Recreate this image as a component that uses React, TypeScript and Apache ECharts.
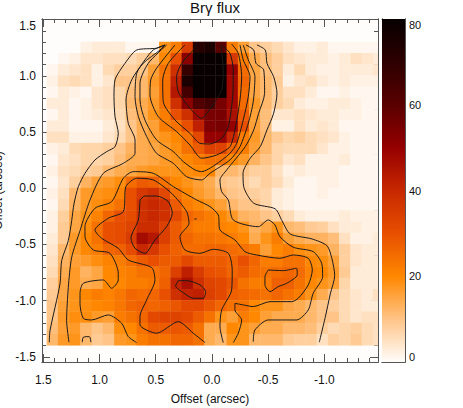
import React, { useEffect, useRef } from "react";
import * as echarts from "echarts";

const xCells = [1.42,1.32,1.22,1.12,1.02,0.92,0.82,0.72,0.62,0.52,0.42,0.32,0.22,0.12,0.02,-0.08,-0.18,-0.28,-0.38,-0.48,-0.58,-0.68,-0.78,-0.88,-0.98,-1.08,-1.18,-1.28,-1.38,-1.48];
const yCells = [1.254,1.154,1.054,0.954,0.854,0.754,0.654,0.554,0.454,0.354,0.254,0.154,0.054,-0.046,-0.146,-0.246,-0.346,-0.446,-0.546,-0.646,-0.746,-0.846,-0.946,-1.046,-1.146,-1.246,-1.346];
const flux = [
[0,0,0,2,3,3,3,1,1,1,18,22,35,72,75,60,22,16,10,8,6,4,2,2,3,1,1,1,1,1],
[0,1,2,4,4,5,5,6,8,12,20,30,52,85,85,80,36,22,14,11,8,5,4,3,3,2,3,5,4,3],
[1,3,4,5,2,6,8,8,10,16,24,38,68,90,90,88,50,25,15,11,8,3,6,3,2,2,3,3,3,4],
[2,5,6,5,2,4,10,10,12,17,24,42,75,90,90,88,48,26,15,12,9,2,4,5,3,2,3,2,2,2],
[1,3,2,1,4,5,7,11,12,16,24,44,65,88,90,85,48,25,15,12,8,5,5,3,1,1,2,1,1,1],
[3,3,1,2,4,5,7,12,14,17,24,38,52,62,65,55,48,25,17,12,8,6,3,2,2,3,3,2,1,1],
[1,3,1,2,3,4,6,11,14,18,22,30,38,48,55,55,46,28,16,11,4,4,5,4,3,3,2,2,1,1],
[3,3,1,1,1,3,5,10,14,16,22,24,30,42,54,55,50,30,16,11,2,2,5,3,4,3,1,1,1,1],
[5,5,2,2,2,4,6,10,14,16,18,20,24,32,50,50,40,22,17,12,9,7,8,6,5,4,2,1,1,1],
[2,3,6,7,7,8,10,13,14,15,17,19,24,28,34,33,26,22,16,12,7,6,6,6,4,2,2,1,1,1],
[1,4,5,7,7,8,11,14,14,15,17,18,20,22,24,24,20,17,13,10,7,4,5,2,2,2,3,1,1,1],
[2,5,6,8,9,12,14,15,17,18,18,18,19,20,20,12,12,10,8,8,5,2,3,2,2,2,1,1,1,1],
[1,4,8,13,16,17,19,25,28,27,24,20,18,16,14,10,9,8,6,8,6,3,1,1,2,2,1,1,1,1],
[2,5,12,17,18,19,21,30,36,38,32,24,20,17,15,12,10,9,8,7,3,2,1,1,2,1,1,1,1,1],
[1,6,13,17,19,21,24,30,38,40,38,28,22,20,18,16,12,10,10,7,3,2,1,1,1,1,1,1,1,1],
[2,8,15,18,21,26,30,31,38,40,38,32,26,24,22,20,17,13,12,10,8,6,3,2,2,2,3,2,2,2],
[2,9,15,19,24,30,31,33,39,39,34,28,24,22,22,21,20,18,13,15,18,12,11,9,8,5,3,3,2,2],
[3,9,17,20,24,30,31,35,47,44,34,28,26,24,24,23,22,20,14,18,22,16,14,13,13,11,5,2,2,3],
[4,12,17,20,22,26,27,31,40,36,30,27,25,25,26,26,25,24,22,16,20,22,19,18,17,13,8,4,3,3],
[5,13,16,17,19,21,22,25,28,30,28,28,32,28,28,28,26,30,26,22,22,24,24,20,19,16,8,4,3,3],
[6,14,17,13,15,20,21,22,24,24,26,34,42,35,30,29,26,28,25,24,25,26,25,21,20,17,9,3,3,3],
[8,15,17,14,15,20,20,22,22,23,27,41,46,38,33,32,29,24,22,22,27,27,24,20,18,16,7,3,3,3],
[9,15,18,20,22,21,23,26,25,26,30,38,41,42,34,32,27,26,25,24,26,24,22,18,14,10,6,4,3,5],
[10,16,18,19,20,21,23,26,27,26,27,29,32,32,29,26,24,24,20,18,18,15,14,12,10,8,6,4,3,3],
[10,17,19,19,17,16,22,24,26,32,33,33,32,28,24,18,16,22,20,16,14,14,14,12,10,10,6,4,5,5],
[11,16,17,12,10,12,19,20,24,28,28,29,28,24,14,14,20,18,16,14,14,12,12,11,8,6,7,8,6,5],
[12,17,18,12,9,10,17,18,22,24,24,26,26,24,14,12,18,18,12,12,12,9,8,8,5,8,7,9,6,5],
];

const outerLeft = [[1.446,-1.37],[1.44,-1.267],[1.351,-0.851],[1.336,-0.644],[1.277,-0.466],[1.247,-0.288],[1.227,-0.14],[1.188,0.014],[1.129,0.133],[1.04,0.252],[0.936,0.326],[0.862,0.37],[0.833,0.489],[0.862,0.637],[0.871,0.815],[0.862,0.964],[0.773,1.112],[0.669,1.23],[0.492,1.246],[0.418,1.275]];
const outerRight = [[-0.4,1.275],[-0.474,1.23],[-0.489,1.112],[-0.548,0.993],[-0.578,0.845],[-0.548,0.667],[-0.489,0.519],[-0.429,0.37],[-0.34,0.267],[-0.276,0.133],[-0.282,0.014],[-0.371,-0.133],[-0.563,-0.184],[-0.622,-0.288],[-0.696,-0.407],[-0.889,-0.451],[-1.022,-0.511],[-1.067,-0.629],[-1.091,-0.778],[-1.052,-0.94],[-1.007,-1.148],[-0.954,-1.37]];
const secondLeft = [[1.271,-1.37],[1.292,-1.178],[1.277,-0.881],[1.247,-0.614],[1.173,-0.377],[1.084,-0.104],[0.966,0.133],[0.788,0.222],[0.684,0.311],[0.684,0.43],[0.744,0.578],[0.764,0.786],[0.714,0.964],[0.611,1.112],[0.462,1.23],[0.418,1.275]];
const secondRight = [[-0.302,1.275],[-0.371,1.23],[-0.391,1.112],[-0.46,1.053],[-0.468,0.845],[-0.415,0.667],[-0.371,0.519],[-0.296,0.37],[-0.131,0.163],[-0.071,0.074],[-0.086,-0.03],[-0.145,-0.104],[-0.189,-0.282],[-0.412,-0.342],[-0.5,-0.282],[-0.56,-0.326],[-0.604,-0.431],[-0.723,-0.525],[-0.9,-0.564],[-0.975,-0.667],[-0.984,-0.786],[-0.9,-0.934],[-0.856,-1.083],[-0.753,-1.172],[-0.5,-1.172],[-0.382,-1.261],[-0.367,-1.365]];
const peakU1 = [[0.418,1.275],[0.522,1.23],[0.596,1.142],[0.669,1.023],[0.684,0.815],[0.654,0.637],[0.58,0.459],[0.492,0.311],[0.344,0.222],[0.225,0.103],[0.092,0.074],[0.018,0.133],[-0.16,0.252],[-0.249,0.37],[-0.323,0.578],[-0.367,0.77],[-0.382,0.993],[-0.323,1.142],[-0.278,1.275]];
const peakU2 = [[0.403,1.275],[0.566,1.112],[0.64,0.934],[0.64,0.786],[0.596,0.608],[0.492,0.43],[0.344,0.326],[0.255,0.237],[0.151,0.163],[0.092,0.148],[-0.027,0.207],[-0.16,0.311],[-0.22,0.4],[-0.278,0.608],[-0.323,0.815],[-0.338,0.993],[-0.278,1.142],[-0.249,1.275]];
const peakU3 = [[0.329,1.275],[0.492,1.068],[0.545,0.963],[0.551,0.83],[0.477,0.637],[0.314,0.504],[0.196,0.385],[0.092,0.267],[-0.042,0.296],[-0.16,0.37],[-0.204,0.519],[-0.249,0.785],[-0.264,0.993],[-0.234,1.2],[-0.175,1.283]];
const peakU4 = [[0.24,1.275],[0.388,1.112],[0.438,0.963],[0.433,0.77],[0.329,0.608],[0.196,0.489],[0.107,0.4],[0.018,0.394],[-0.086,0.445],[-0.145,0.548],[-0.184,0.815],[-0.189,1.052],[-0.16,1.2],[-0.086,1.275]];
const peakU5 = [[0.136,1.275],[0.166,1.23],[0.269,1.112],[0.314,0.993],[0.3,0.859],[0.196,0.712],[0.092,0.622],[0.033,0.682],[-0.027,0.77],[-0.086,0.875],[-0.1,1.023],[-0.086,1.23],[-0.071,1.275]];
const lowerOuter = [[0.67,-1.373],[0.744,-1.32],[0.803,-1.201],[0.922,-1.127],[1.07,-1.172],[1.144,-1.157],[1.173,-1.024],[1.173,-0.935],[1.144,-0.846],[0.966,-0.816],[0.892,-0.89],[0.833,-0.816],[0.833,-0.757],[0.907,-0.579],[1.055,-0.549],[1.129,-0.43],[1.129,-0.341],[1.04,-0.178],[0.892,-0.119],[0.788,0.089],[0.699,0.148],[0.522,0.133],[0.344,0.015],[0.136,-0.104],[0.018,-0.163],[-0.056,-0.238],[-0.071,-0.371],[-0.204,-0.46],[-0.293,-0.564],[-0.397,-0.594],[-0.604,-0.623],[-0.723,-0.594],[-0.856,-0.623],[-0.892,-0.727],[-0.856,-0.86],[-0.767,-0.979],[-0.708,-1.009],[-0.516,-1.009],[-0.367,-1.053],[-0.278,-1.038],[-0.204,-1.024],[-0.204,-1.083],[-0.264,-1.172],[-0.234,-1.29],[-0.19,-1.373]];
const lowerInner = [[0.062,-1.373],[0.166,-1.29],[0.299,-1.187],[0.492,-1.29],[0.64,-1.216],[0.64,-1.142],[0.581,-0.994],[0.507,-0.816],[0.536,-0.706],[0.744,-0.638],[0.833,-0.534],[0.981,-0.445],[1.04,-0.371],[0.922,-0.267],[0.788,-0.208],[0.765,0.015],[0.67,0.089],[0.522,0.074],[0.359,-0.045],[0.225,-0.208],[0.204,-0.312],[0.285,-0.43],[0.24,-0.549],[0.107,-0.579],[-0.012,-0.543],[-0.145,-0.579],[-0.18,-0.727],[-0.175,-0.905],[-0.086,-1.083],[-0.071,-1.231],[-0.1,-1.373]];
const blobD = [[0.64,-0.104],[0.596,-0.069],[0.492,-0.069],[0.388,-0.119],[0.353,-0.223],[0.403,-0.341],[0.507,-0.46],[0.596,-0.579],[0.684,-0.534],[0.72,-0.445],[0.655,-0.282],[0.64,-0.104]];
const blobE = [[0.299,-0.822],[0.225,-0.822],[0.107,-0.86],[0.056,-0.92],[0.077,-0.979],[0.166,-0.979],[0.255,-0.929],[0.323,-0.869],[0.299,-0.822]];
const blobF = [[-0.501,-0.727],[-0.634,-0.733],[-0.752,-0.712],[-0.758,-0.771],[-0.664,-0.846],[-0.589,-0.875],[-0.516,-0.92],[-0.471,-0.86],[-0.471,-0.786],[-0.501,-0.727]];
const cornerArc = [[1.153,-1.37],[1.144,-1.326],[1.09,-1.32],[1.076,-1.37]];
const speck = [[0.157,-0.273],[0.136,-0.273]];
const contours = [outerLeft, outerRight, secondLeft, secondRight, peakU1, peakU2, peakU3, peakU4, peakU5, lowerOuter, lowerInner, blobD, blobE, blobF, cornerArc, speck];

const xMajor = [-1, -0.5, 0, 0.5, 1, 1.5];
const yMajor = [-1.5, -1, -0.5, 0, 0.5, 1, 1.5];
const xMinor = [-1.4,-1.3,-1.2,-1.1,-0.9,-0.8,-0.7,-0.6,-0.4,-0.3,-0.2,-0.1,0.1,0.2,0.3,0.4,0.6,0.7,0.8,0.9,1.1,1.2,1.3,1.4];
const yMinor = xMinor;
const barMajor = [0, 20, 40, 60, 80];
const barMinor = [10, 30, 50, 70];
const colourStops = ["#fffdfb", "#ffc487", "#ff8800", "#e85000", "#c82800", "#960000", "#5a0000", "#2e0000", "#080000"];

const xRange = [-1.476, 1.511];
const yRange = [-1.546, 1.506];
const barRange = [0, 80.2];
const FONT = "'Liberation Sans', Arial, sans-serif";
const FRAME = "#555";

const frameAxis = (extra: any) => ({
  type: "value",
  splitLine: { show: false },
  axisLine: { show: true, onZero: false, lineStyle: { color: FRAME, width: 1 } },
  axisLabel: { show: false },
  axisTick: { show: false },
  ...extra,
});
const ticks = (values: number[], length: number) => ({
  show: true, inside: true, length, customValues: values, lineStyle: { color: FRAME, width: 1 },
});

export default function App() {
  const ref = useRef<HTMLDivElement>(null);
  useEffect(() => {
    const chart = echarts.init(ref.current!, undefined, { renderer: "svg" });
    const heat: number[][] = [];
    flux.forEach((row, j) => row.forEach((v, i) => heat.push([xCells[i], yCells[j], v])));
    const plotX = { min: xRange[0], max: xRange[1], inverse: true };
    const plotY = { min: yRange[0], max: yRange[1] };
    const barX = { min: 0, max: 1 };
    const barY = { min: barRange[0], max: barRange[1] };
    const plotGrid = { left: 42, top: 19, width: 336, height: 343, outerBoundsMode: "none" };
    const barGrid = { left: 382, top: 19, width: 23, height: 343, outerBoundsMode: "none" };
    chart.setOption({
      animation: false,
      backgroundColor: "#fff",
      title: {
        text: "Brγ flux", left: 210, top: -5, textAlign: "center",
        textStyle: { fontFamily: FONT, fontSize: 15, fontWeight: "normal", color: "#111" },
      },
      grid: [
        { ...plotGrid, show: true, backgroundColor: "#fffdfb", borderWidth: 0 },
        { ...plotGrid },
        { ...barGrid },
        { ...barGrid },
      ],
      visualMap: {
        type: "continuous", show: false, min: 0, max: 80, dimension: 2, seriesIndex: 0,
        inRange: { color: colourStops },
      },
      xAxis: [
        frameAxis({
          gridIndex: 0, position: "bottom", ...plotX,
          axisTick: ticks(xMajor, 8),
          axisLabel: {
            show: true, customValues: xMajor, margin: 12, fontFamily: FONT, fontSize: 12, color: "#111",
            formatter: (v: number) => v.toFixed(1),
          },
          name: "Offset (arcsec)", nameLocation: "middle", nameGap: 31,
          nameTextStyle: { fontFamily: FONT, fontSize: 12, color: "#111" },
        }),
        frameAxis({ gridIndex: 0, position: "top", ...plotX, axisTick: ticks(xMajor, 8) }),
        frameAxis({ gridIndex: 1, position: "bottom", ...plotX, axisTick: ticks(xMinor, 4) }),
        frameAxis({ gridIndex: 1, position: "top", ...plotX, axisTick: ticks(xMinor, 4) }),
        frameAxis({ gridIndex: 2, position: "bottom", ...barX }),
        frameAxis({ gridIndex: 2, position: "top", ...barX }),
        frameAxis({ gridIndex: 3, position: "bottom", ...barX }),
      ],
      yAxis: [
        frameAxis({
          gridIndex: 0, position: "left", ...plotY,
          axisTick: ticks(yMajor, 8),
          axisLabel: {
            show: true, customValues: yMajor, margin: 6, fontFamily: FONT, fontSize: 12, color: "#111",
            verticalAlignMaxLabel: "top",
            formatter: (v: number) => v.toFixed(1),
          },
          name: "Offset (arcsec)", nameLocation: "middle", nameGap: 37,
          nameTextStyle: { fontFamily: FONT, fontSize: 12, color: "#111" },
        }),
        frameAxis({ gridIndex: 0, position: "right", ...plotY, axisTick: ticks(yMajor, 8) }),
        frameAxis({ gridIndex: 1, position: "left", ...plotY, axisTick: ticks(yMinor, 4) }),
        frameAxis({ gridIndex: 1, position: "right", ...plotY, axisTick: ticks(yMinor, 4) }),
        frameAxis({
          gridIndex: 2, position: "right", ...barY,
          axisTick: ticks(barMajor, 5),
          axisLabel: {
            show: true, customValues: barMajor, margin: 4, fontFamily: FONT, fontSize: 11, color: "#111",
            verticalAlignMinLabel: "bottom", verticalAlignMaxLabel: "top",
          },
        }),
        frameAxis({ gridIndex: 2, position: "left", ...barY, axisTick: ticks(barMajor, 5) }),
        frameAxis({ gridIndex: 3, position: "right", ...barY, axisTick: ticks(barMinor, 3) }),
        frameAxis({ gridIndex: 3, position: "left", ...barY, axisTick: ticks(barMinor, 3) }),
      ],
      series: [
        {
          type: "custom", xAxisIndex: 0, yAxisIndex: 0, clip: true, silent: true,
          data: heat, encode: { x: 0, y: 1 }, z: 1,
          renderItem: (_p: any, api: any) => {
            const a = api.coord([api.value(0) + 0.05, api.value(1) + 0.05]);
            const b = api.coord([api.value(0) - 0.05, api.value(1) - 0.05]);
            const fill = api.visual("color");
            return {
              type: "rect",
              shape: { x: a[0], y: a[1], width: b[0] - a[0] + 0.4, height: b[1] - a[1] + 0.4 },
              style: { fill, stroke: null },
            };
          },
        },
        {
          type: "custom", xAxisIndex: 4, yAxisIndex: 4, clip: true, silent: true,
          data: [[0, barRange[0]], [1, barRange[1]]], encode: { x: 0, y: 1 }, z: 1,
          renderItem: (p: any, api: any) => {
            if (p.dataIndex !== 0) return null;
            const a = api.coord([0, barRange[1]]);
            const b = api.coord([1, barRange[0]]);
            return {
              type: "rect",
              shape: { x: a[0], y: a[1], width: b[0] - a[0], height: b[1] - a[1] },
              style: {
                fill: new echarts.graphic.LinearGradient(0, 1, 0, 0,
                  colourStops.map((color, i) => ({ offset: (i * 10) / barRange[1], color }))),
              },
            };
          },
        },
        ...contours.map((points) => ({
          type: "line", xAxisIndex: 0, yAxisIndex: 0, data: points, showSymbol: false, symbol: "none",
          smooth: 0.25, silent: true, z: 3, clip: true,
          lineStyle: { color: "#1a1a1a", width: 1 },
        })),
      ],
    });
    return () => chart.dispose();
  }, []);
  return <div ref={ref} style={{ position: "absolute", left: 0, top: 0, width: 463, height: 408 }} />;
}
